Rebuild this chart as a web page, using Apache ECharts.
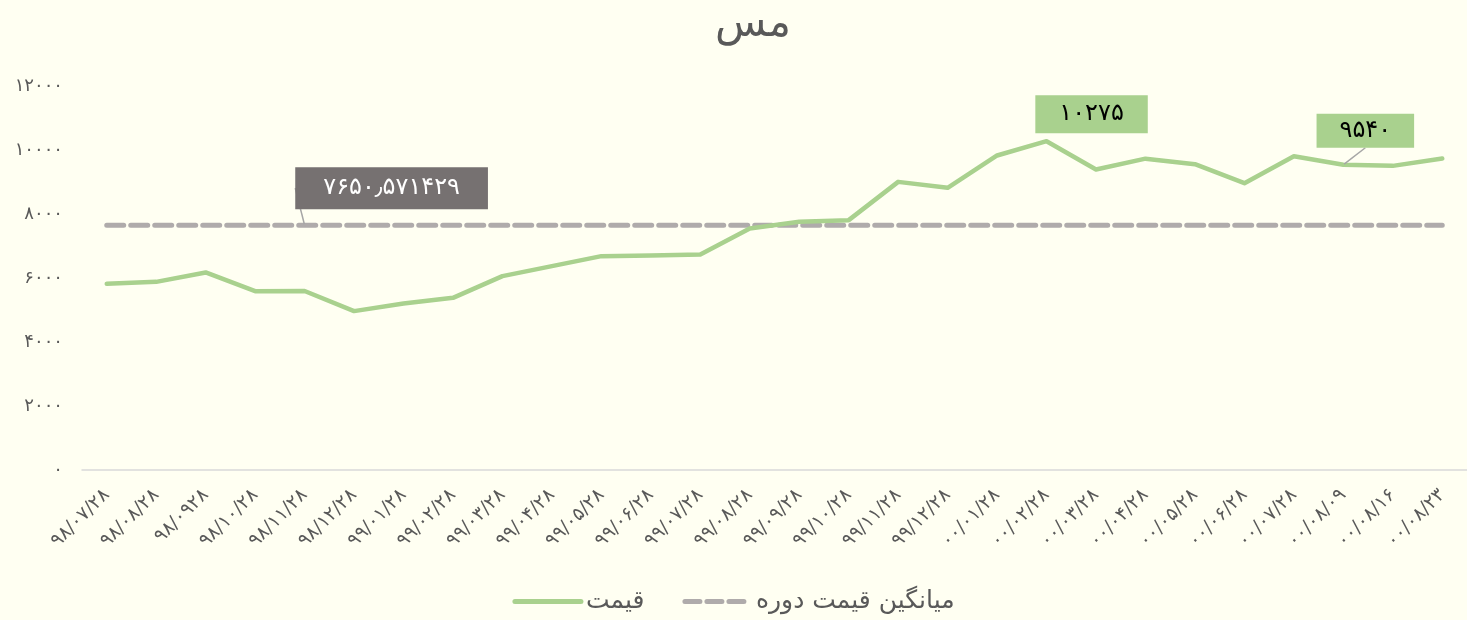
<!DOCTYPE html>
<html>
<head>
<meta charset="utf-8">
<script src="https://cdn.jsdelivr.net/npm/echarts@6/dist/echarts.min.js"></script>
<style>
  html, body { margin: 0; padding: 0; background: #FFFFF2; }
  #chart { width: 1467px; height: 620px; }
</style>
</head>
<body>
<div id="chart"></div>
<script>
// داده ها
var categories = ['۹۸/۰۷/۲۸','۹۸/۰۸/۲۸','۹۸/۰۹۲۸','۹۸/۱۰/۲۸','۹۸/۱۱/۲۸','۹۸/۱۲/۲۸','۹۹/۰۱/۲۸','۹۹/۰۲/۲۸','۹۹/۰۳/۲۸','۹۹/۰۴/۲۸','۹۹/۰۵/۲۸','۹۹/۰۶/۲۸','۹۹/۰۷/۲۸','۹۹/۰۸/۲۸','۹۹/۰۹/۲۸','۹۹/۱۰/۲۸','۹۹/۱۱/۲۸','۹۹/۱۲/۲۸','۰۰/۰۱/۲۸','۰۰/۰۲/۲۸','۰۰/۰۳/۲۸','۰۰/۰۴/۲۸','۰۰/۰۵/۲۸','۰۰/۰۶/۲۸','۰۰/۰۷/۲۸','۰۰/۰۸/۰۹','۰۰/۰۸/۱۶','۰۰/۰۸/۲۳'];
var priceValues = [5817, 5880, 6174, 5589, 5595, 4965, 5205, 5380, 6058, 6370, 6683, 6705, 6736, 7548, 7755, 7808, 9004, 8817, 9829, 10275, 9392, 9729, 9557, 8964, 9807, 9540, 9504, 9735];
var avgValue = 7650.571429;
var avgLabel = '۷۶۵۰٫۵۷۱۴۲۹';
var yTicks = [0, 2000, 4000, 6000, 8000, 10000, 12000];

var titleText = 'مس';
var priceName = 'قیمت';
var avgName = 'میانگین قیمت دوره';

var FONT = '"DejaVu Sans", sans-serif';
var GREEN = '#A9D18E', GRAY = '#AFABAB';

function toFa(s){
    return String(s).replace(/[0-9]/g, function(d){ return '۰۱۲۳۴۵۶۷۸۹'[d]; });
}

var peakIdx = 19, lastLblIdx = 25, avgLblIdx = 4;

// سری قیمت با دو برچسب
var priceData = priceValues.map(function(v, i){
    if(i == peakIdx || i == lastLblIdx){
        return {
            value: v, symbol: 'circle', symbolSize: 2,
            label: {
                show: true, position: 'inside',
                formatter: toFa(v),
                backgroundColor: GREEN, color: '#000',
                fontSize: 24, fontFamily: FONT,
                padding: i == peakIdx ? [7, 24, 7, 24] : [5, 23, 5, 23]
            },
            labelLine: { show: i == lastLblIdx, lineStyle: { color: '#A6A6A6', width: 1.5 } }
        };
    }
    return v;
});

// خط میانگین
var avgData = categories.map(function(c, i){
    if(i == avgLblIdx){
        return {
            value: avgValue, symbol: 'circle', symbolSize: 2,
            label: {
                show: true, position: 'inside',
                formatter: avgLabel,
                backgroundColor: '#767171', color: '#fff',
                fontSize: 24, fontFamily: FONT,
                padding: [9, 28, 9, 28]
            },
            labelLine: { show: true, lineStyle: { color: '#A6A6A6', width: 1.5 } }
        };
    }
    return avgValue;
});

var chart = echarts.init(document.getElementById('chart'));

var option = {
    backgroundColor: '#FFFFF2',
    animation: false,
    title: {
        text: titleText, left: 710, top: -1,
        textStyle: { fontFamily: FONT, fontSize: 42, fontWeight: 'normal', color: '#595959' }
    },
    legend: {
        bottom: 1, left: 'center',
        itemWidth: 66, itemHeight: 10, itemGap: 38,
        data: [
            { name: priceName, itemStyle: { opacity: 0 }, lineStyle: { color: GREEN, width: 5, cap: 'round' } },
            { name: avgName, itemStyle: { opacity: 0 }, lineStyle: { color: GRAY, width: 5, type: [15, 7], cap: 'round' } }
        ],
        textStyle: { fontFamily: FONT, fontSize: 25, color: '#595959' }
    },
    grid: { left: 82, top: 86, width: 1388, height: 384, containLabel: false },
    xAxis: {
        type: 'category',
        data: categories,
        boundaryGap: true,
        axisLine: { lineStyle: { color: '#D9D9D9', width: 1.5 } },
        axisTick: { show: false },
        axisLabel: { rotate: 45, interval: 0, margin: 22, fontFamily: FONT, fontSize: 19, color: '#595959' }
    },
    yAxis: {
        type: 'value',
        min: 0, max: 12000, interval: 2000,
        axisLine: { show: false },
        axisTick: { show: false },
        splitLine: { show: false },
        axisLabel: {
            margin: 19, fontFamily: FONT, fontSize: 18, color: '#595959',
            formatter: function(v){ return yTicks.indexOf(v) >= 0 ? toFa(v) : ''; }
        }
    },
    series: [
        {
            name: priceName, type: 'line', data: priceData,
            symbol: 'none', showSymbol: true, z: 3,
            lineStyle: { color: GREEN, width: 4.5, cap: 'round', join: 'round' },
            itemStyle: { color: GREEN },
            labelLayout: function(p){
                if(p.dataIndex == peakIdx) return { dx: 45, dy: -27 };
                if(p.dataIndex == lastLblIdx) return { dx: 22, dy: -34 };
                return {};
            }
        },
        {
            name: avgName, type: 'line', data: avgData,
            symbol: 'none', showSymbol: true, z: 2,
            lineStyle: { color: GRAY, width: 5, type: [17, 7], cap: 'round' },
            itemStyle: { color: GRAY },
            labelLayout: function(p){
                if(p.dataIndex == avgLblIdx) return { dx: 87, dy: -37 };
                return {};
            }
        }
    ]
};
chart.setOption(option);
</script>
</body>
</html>
